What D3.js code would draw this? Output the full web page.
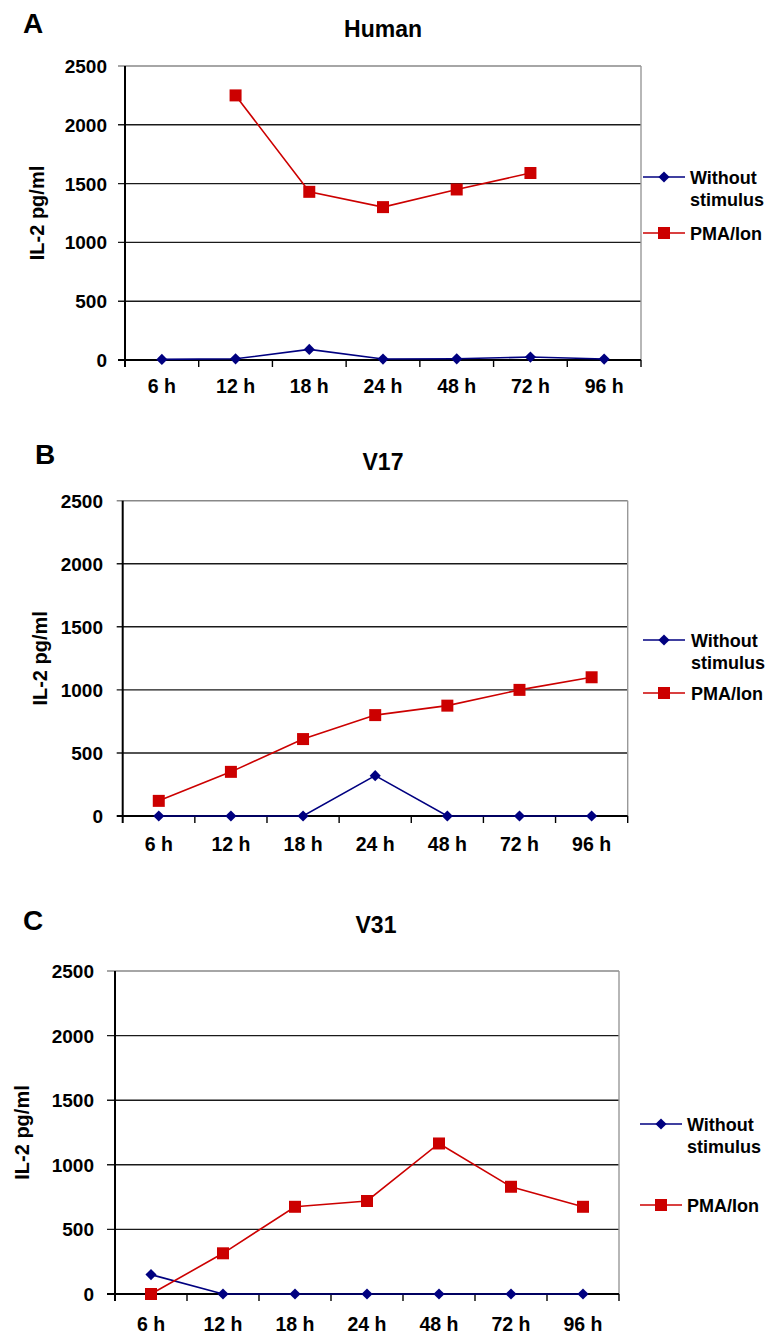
<!DOCTYPE html>
<html>
<head>
<meta charset="utf-8">
<script src="https://cdn.jsdelivr.net/npm/d3@7"></script>
<style>
  body { margin: 0; background: #fff; }
  svg text { font-family: "Liberation Sans", Arial, sans-serif; font-weight: bold; fill: #000; }
</style>
</head>
<body>
<svg id="chart" width="769" height="1337"></svg>
<script>
// data
var categories = ["6 h", "12 h", "18 h", "24 h", "48 h", "72 h", "96 h"];
var yTicks = [0, 500, 1000, 1500, 2000, 2500];
var legendLabels = [["Without", "stimulus"], ["PMA/Ion"]];

var humanWithout = [5, 10, 90, 8, 10, 25, 8];
var humanPma = [null, 2250, 1430, 1300, 1450, 1590, null];

var v17Without = [0, 0, 0, 320, 0, 0, 0];
var v17Pma = [120, 350, 610, 800, 875, 1000, 1100];

var v31Without = [150, 0, 0, 0, 0, 0, 0];
var v31Pma = [0, 315, 675, 720, 1165, 830, 675];

var BLUE = "#000080",
    RED = "#cc0000";

// where each panel sits on the page
var panels = [
  { letter: "A", title: "Human", without: humanWithout, pma: humanPma,
    left: 125, right: 641, top: 66, bottom: 360,
    letterX: 23, letterY: 33, titleX: 383, titleY: 37,
    yTitleX: 37, tick: 7, labelX: 107, xLabelDy: 33,
    legX: 643, legY: [177, 233], legTextX: 690 },
  { letter: "B", title: "V17", without: v17Without, pma: v17Pma,
    left: 122.7, right: 627.7, top: 500.7, bottom: 816,
    letterX: 35, letterY: 464, titleX: 383, titleY: 470,
    yTitleX: 40, tick: 6, labelX: 103, xLabelDy: 35,
    legX: 643, legY: [640, 693], legTextX: 691 },
  { letter: "C", title: "V31", without: v31Without, pma: v31Pma,
    left: 115, right: 619, top: 971, bottom: 1294,
    letterX: 23, letterY: 930, titleX: 376, titleY: 933,
    yTitleX: 22, tick: 8, labelX: 94, xLabelDy: 37,
    legX: 640, legY: [1124, 1205], legTextX: 687 }
];

var svg = d3.select("#chart");

var diamond = d3.symbol().type(d3.symbolSquare).size(62);
var square = d3.symbol().type(d3.symbolSquare).size(144);

panels.forEach(function(p) {
  var g = svg.append("g");

  var x = d3.scaleBand()
      .domain(categories)
      .range([p.left, p.right]);

  var y = d3.scaleLinear()
      .domain([0, 2500])
      .range([p.bottom, p.top]);

  var cx = function(d, i) { return x(categories[i]) + x.bandwidth() / 2; };

  // panel letter + title
  g.append("text")
      .attr("x", p.letterX).attr("y", p.letterY)
      .style("font-size", "28px")
      .text(p.letter);

  g.append("text")
      .attr("x", p.titleX).attr("y", p.titleY)
      .attr("text-anchor", "middle")
      .style("font-size", "23px")
      .text(p.title);

  // horizontal grid lines (they also act as the y ticks)
  g.selectAll(".grid")
    .data(yTicks.filter(function(d) { return d > 0; }))
    .enter().append("line")
      .attr("x1", p.left - p.tick).attr("x2", p.right)
      .attr("y1", function(d) { return y(d); })
      .attr("y2", function(d) { return y(d); })
      .attr("stroke", function(d) { return d == 2500 ? "#888" : "#1a1a1a"; })
      .attr("stroke-width", 1.4);

  // right border
  g.append("line")
      .attr("x1", p.right).attr("x2", p.right)
      .attr("y1", p.top).attr("y2", p.bottom)
      .attr("stroke", "#999")
      .attr("stroke-width", 1.4);

  // y axis
  g.append("line")
      .attr("x1", p.left).attr("x2", p.left)
      .attr("y1", p.top).attr("y2", p.bottom + 7)
      .attr("stroke", "#000")
      .attr("stroke-width", 2);

  // x axis with ticks on category boundaries
  g.append("line")
      .attr("x1", p.left - p.tick).attr("x2", p.right)
      .attr("y1", p.bottom).attr("y2", p.bottom)
      .attr("stroke", "#000")
      .attr("stroke-width", 2);

  g.selectAll(".xtick")
    .data(categories.slice(1).concat(["end"]))
    .enter().append("line")
      .attr("x1", function(d, i) { return p.left + (i + 1) * x.step(); })
      .attr("x2", function(d, i) { return p.left + (i + 1) * x.step(); })
      .attr("y1", p.bottom).attr("y2", p.bottom + 7)
      .attr("stroke", "#000")
      .attr("stroke-width", 1.4);

  g.selectAll(".ylabel")
    .data(yTicks)
    .enter().append("text")
      .attr("x", p.labelX)
      .attr("y", function(d) { return y(d) + 7; })
      .attr("text-anchor", "end")
      .style("font-size", "19px")
      .text(function(d) { return d; });

  g.selectAll(".xlabel")
    .data(categories)
    .enter().append("text")
      .attr("x", function(d) { return x(d) + x.bandwidth() / 2; })
      .attr("y", p.bottom + p.xLabelDy)
      .attr("text-anchor", "middle")
      .style("font-size", "19.5px")
      .text(function(d) { return d; });

  g.append("text")
      .attr("transform", "translate(" + [p.yTitleX + 7, (p.top + p.bottom) / 2] + ") rotate(-90)")
      .attr("text-anchor", "middle")
      .style("font-size", "20px")
      .text("IL-2 pg/ml");

  // series
  var line = d3.line()
      .defined(function(d) { return d != null; })
      .x(cx)
      .y(function(d) { return y(d); });

  g.append("path")
      .datum(p.without)
      .attr("d", line)
      .attr("fill", "none")
      .attr("stroke", BLUE)
      .attr("stroke-width", 1.6);

  g.append("path")
      .datum(p.pma)
      .attr("d", line)
      .attr("fill", "none")
      .attr("stroke", RED)
      .attr("stroke-width", 1.6);

  g.selectAll(".dia")
    .data(p.without)
    .enter().append("path")
      .attr("d", diamond)
      .attr("transform", function(d, i) { return "translate(" + [cx(d, i), y(d)] + ") rotate(45)"; })
      .attr("fill", BLUE);

  g.selectAll(".sq")
    .data(p.pma.map(function(d, i) { return { v: d, i: i }; }).filter(function(d) { return d.v != null; }))
    .enter().append("path")
      .attr("d", square)
      .attr("transform", function(d) { return "translate(" + [cx(d.v, d.i), y(d.v)] + ")"; })
      .attr("fill", RED);

  // legend
  var colors = [BLUE, RED];
  legendLabels.forEach(function(lab, k) {
    var ly = p.legY[k];
    g.append("line")
        .attr("x1", p.legX).attr("x2", p.legX + 42)
        .attr("y1", ly).attr("y2", ly)
        .attr("stroke", colors[k])
        .attr("stroke-width", 1.6);
    g.append("path")
        .attr("d", k == 0 ? diamond : square)
        .attr("transform", "translate(" + [p.legX + 21, ly] + ")" + (k == 0 ? " rotate(45)" : ""))
        .attr("fill", colors[k]);
    lab.forEach(function(t, j) {
      g.append("text")
          .attr("x", p.legTextX)
          .attr("y", ly + 6.5 + j * 22.5)
          .style("font-size", "18px")
          .text(t);
    });
  });
});
</script>
</body>
</html>
